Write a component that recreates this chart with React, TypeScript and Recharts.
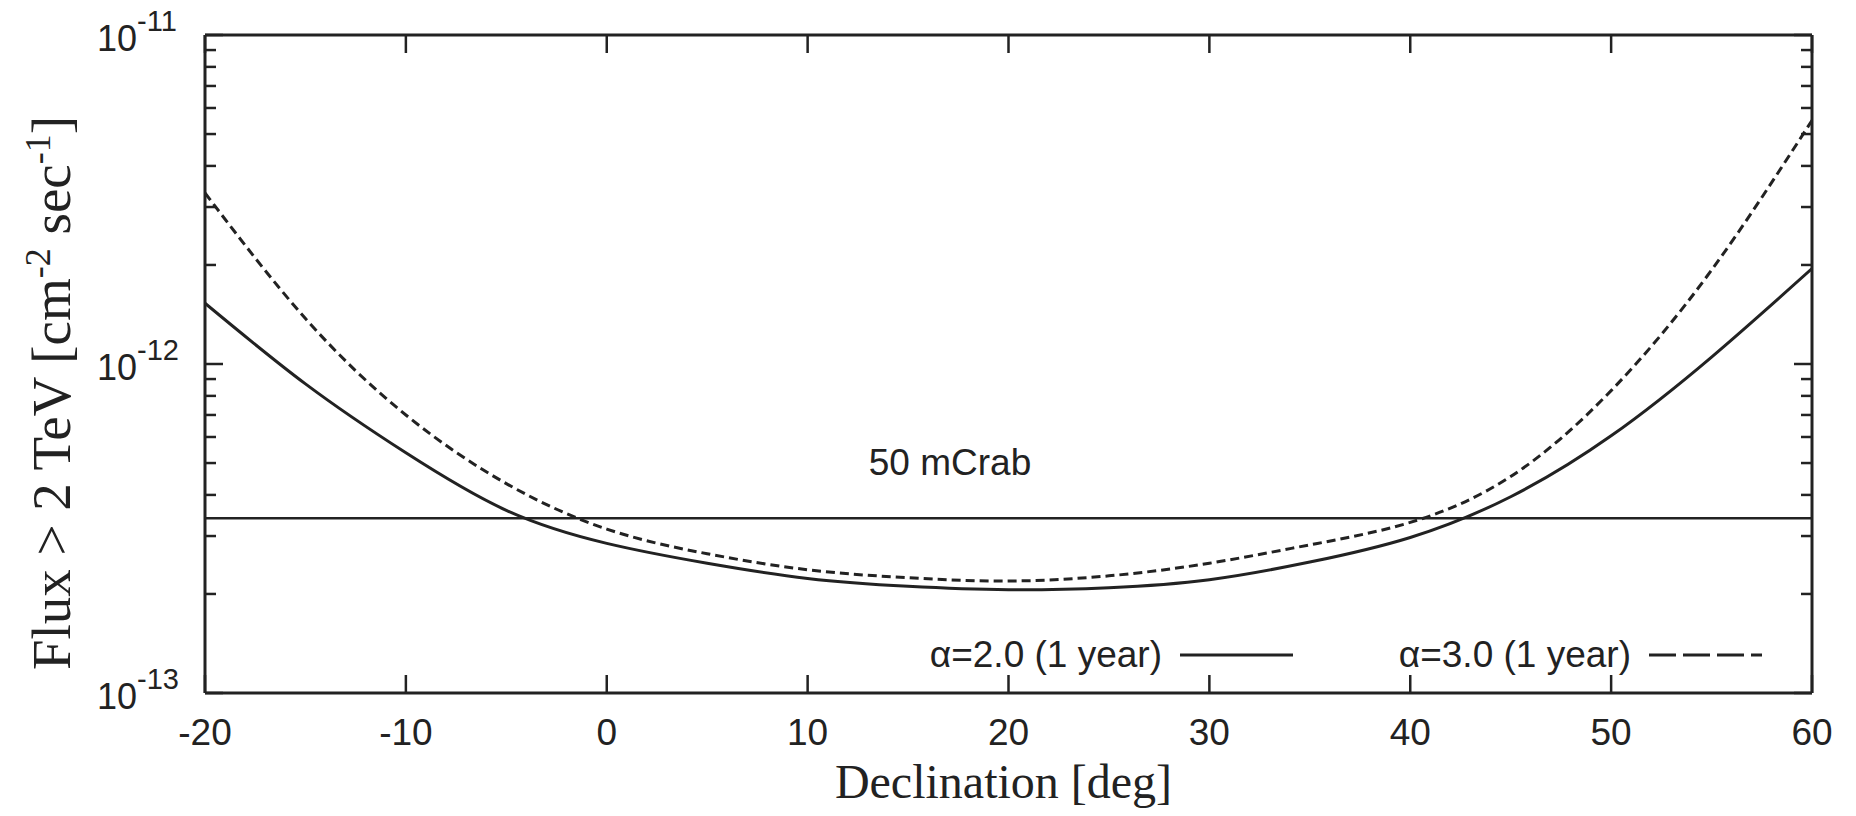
import React from "react"
import { LineChart, Line, XAxis, YAxis, ReferenceLine, Legend } from "recharts"

// declination [deg] and sensitivity flux > 2 TeV [cm^-2 s^-1]
const declination = [-20, -15, -10, -5, 0, 5, 10, 15, 20, 25, 30, 35, 40, 45, 50, 55, 60]
const alpha2Flux = [
  1.53e-12, 8.7e-13, 5.37e-13, 3.59e-13, 2.85e-13, 2.48e-13, 2.23e-13, 2.11e-13, 2.06e-13,
  2.09e-13, 2.21e-13, 2.5e-13, 2.97e-13, 3.95e-13, 6.05e-13, 1.05e-12, 1.95e-12,
]
const alpha3Flux = [
  3.31e-12, 1.375e-12, 7.0e-13, 4.33e-13, 3.15e-13, 2.65e-13, 2.37e-13, 2.24e-13, 2.19e-13,
  2.27e-13, 2.48e-13, 2.82e-13, 3.3e-13, 4.55e-13, 8.3e-13, 1.93e-12, 5.5e-12,
]
const crab50 = 3.4e-13

const xTicks = [-20, -10, 0, 10, 20, 30, 40, 50, 60]
const yTicks = [
  1e-13, 2e-13, 3e-13, 4e-13, 5e-13, 6e-13, 7e-13, 8e-13, 9e-13,
  1e-12, 2e-12, 3e-12, 4e-12, 5e-12, 6e-12, 7e-12, 8e-12, 9e-12,
  1e-11,
]
const seriesNames = ["α=2.0 (1 year)", "α=3.0 (1 year)"]

const chartData = declination.map((dec, i) => ({
  dec,
  alpha2: alpha2Flux[i],
  alpha3: alpha3Flux[i],
}))

const INK = "#222"
const SANS = '"Liberation Sans", Arial, Helvetica, sans-serif'
const SERIF = '"Liberation Serif", "Times New Roman", serif'
const MAJOR = 18
const MINOR = 11

const isMajor = (v: number) => Math.abs(Math.log10(v) - Math.round(Math.log10(v))) < 1e-6

function BottomTick(props: any) {
  const { x, y, payload } = props
  return (
    <g>
      <line x1={x} x2={x} y1={y} y2={y - MAJOR} stroke={INK} strokeWidth={2.5} />
      <text x={x} y={y + 52} textAnchor="middle" fontFamily={SANS} fontSize={37} fill={INK}>
        {payload.value}
      </text>
    </g>
  )
}

function TopTick(props: any) {
  const { x, y } = props
  return <line x1={x} x2={x} y1={y} y2={y + MAJOR} stroke={INK} strokeWidth={2.5} />
}

function LeftTick(props: any) {
  const { x, y, payload } = props
  const v = payload.value as number
  const major = isMajor(v)
  const exp = Math.round(Math.log10(v))
  return (
    <g>
      <line x1={x} x2={x + (major ? MAJOR : MINOR)} y1={y} y2={y} stroke={INK} strokeWidth={2.5} />
      {major && (
        <g fontFamily={SANS} fill={INK}>
          <text x={x - 68} y={y + 16} textAnchor="end" fontSize={36}>10</text>
          <text x={x - 68} y={y - 4} textAnchor="start" fontSize={29}>{exp}</text>
        </g>
      )}
    </g>
  )
}

function RightTick(props: any) {
  const { x, y, payload } = props
  const major = isMajor(payload.value)
  return <line x1={x} x2={x - (major ? MAJOR : MINOR)} y1={y} y2={y} stroke={INK} strokeWidth={2.5} />
}

function XTitle(props: any) {
  const { viewBox } = props
  return (
    <text x={viewBox.x + viewBox.width / 2 - 5} y={viewBox.y + 105} textAnchor="middle" fontFamily={SERIF} fontSize={48} fill={INK}>
      Declination [deg]
    </text>
  )
}

function YTitle(props: any) {
  const { viewBox } = props
  const cx = viewBox.x + 70
  const cy = viewBox.y + viewBox.height / 2 + 29
  return (
    <text x={cx} y={cy} transform={`rotate(-90 ${cx} ${cy})`} textAnchor="middle" fontFamily={SERIF} fontSize={55} fill={INK}>
      Flux &gt; 2 TeV [cm
      <tspan dy={-20} fontSize={36}>-2</tspan>
      <tspan dy={20}> sec</tspan>
      <tspan dy={-20} fontSize={36}>-1</tspan>
      <tspan dy={20}>]</tspan>
    </text>
  )
}

function CrabLabel(props: any) {
  const { viewBox } = props
  return (
    <text x={viewBox.x + 745} y={viewBox.y - 43} textAnchor="middle" fontFamily={SANS} fontSize={37} fill={INK}>
      50 mCrab
    </text>
  )
}

function KeyContent() {
  const dashes = ["none", "27 7"]
  return (
    <div style={{ display: "flex", alignItems: "center", fontFamily: SANS, fontSize: 37, color: INK, height: 44 }}>
      {seriesNames.map((name, i) => (
        <div key={name} style={{ display: "flex", alignItems: "center", marginLeft: i === 0 ? 0 : 81 }}>
          <span style={{ width: 257, textAlign: "right", whiteSpace: "nowrap" }}>{name}</span>
          <svg width={113} height={44} style={{ marginLeft: 18 }}>
            <line x1={0} x2={113} y1={22} y2={22} stroke={INK} strokeWidth={3} strokeDasharray={dashes[i]} />
          </svg>
        </div>
      ))}
    </div>
  )
}

export default function App() {
  return (
    <div style={{ position: "absolute", left: 0, top: 0, width: 1856, height: 816, background: "#fff" }}>
      <LineChart width={1856} height={816} data={chartData} margin={{ top: 30, right: 40, bottom: 0, left: 0 }}>
        <XAxis
          xAxisId="bottom"
          dataKey="dec"
          type="number"
          domain={[-20, 60]}
          ticks={xTicks}
          interval={0}
          allowDataOverflow
          height={123}
          tickSize={0}
          tickMargin={0}
          tickLine={false}
          axisLine={{ stroke: INK, strokeWidth: 3 }}
          tick={(p: any) => <BottomTick {...p} />}
          label={<XTitle />}
        />
        <XAxis
          xAxisId="top"
          orientation="top"
          dataKey="dec"
          type="number"
          domain={[-20, 60]}
          ticks={xTicks}
          interval={0}
          allowDataOverflow
          height={5}
          tickSize={0}
          tickMargin={0}
          tickLine={false}
          axisLine={{ stroke: INK, strokeWidth: 3 }}
          tick={(p: any) => <TopTick {...p} />}
        />
        <YAxis
          yAxisId="left"
          type="number"
          scale="log"
          domain={[1e-13, 1e-11]}
          ticks={yTicks}
          interval={0}
          allowDataOverflow
          width={205}
          tickSize={0}
          tickMargin={0}
          tickLine={false}
          axisLine={{ stroke: INK, strokeWidth: 3 }}
          tick={(p: any) => <LeftTick {...p} />}
          label={<YTitle />}
        />
        <YAxis
          yAxisId="right"
          orientation="right"
          type="number"
          scale="log"
          domain={[1e-13, 1e-11]}
          ticks={yTicks}
          interval={0}
          allowDataOverflow
          width={4}
          tickSize={0}
          tickMargin={0}
          tickLine={false}
          axisLine={{ stroke: INK, strokeWidth: 3 }}
          tick={(p: any) => <RightTick {...p} />}
        />
        <ReferenceLine
          xAxisId="bottom"
          yAxisId="left"
          y={crab50}
          stroke={INK}
          strokeWidth={2.5}
          label={<CrabLabel />}
        />
        <Line
          xAxisId="bottom"
          yAxisId="left"
          type="natural"
          dataKey="alpha2"
          name={seriesNames[0]}
          stroke={INK}
          strokeWidth={3}
          dot={false}
          isAnimationActive={false}
        />
        <Line
          xAxisId="bottom"
          yAxisId="left"
          type="natural"
          dataKey="alpha3"
          name={seriesNames[1]}
          stroke={INK}
          strokeWidth={3}
          strokeDasharray="9 5"
          dot={false}
          isAnimationActive={false}
        />
        <Legend
          layout="vertical"
          align="center"
          verticalAlign="middle"
          content={() => <KeyContent />}
          wrapperStyle={{ left: 905, top: 633, width: "auto", margin: 0 }}
        />
      </LineChart>
    </div>
  )
}
